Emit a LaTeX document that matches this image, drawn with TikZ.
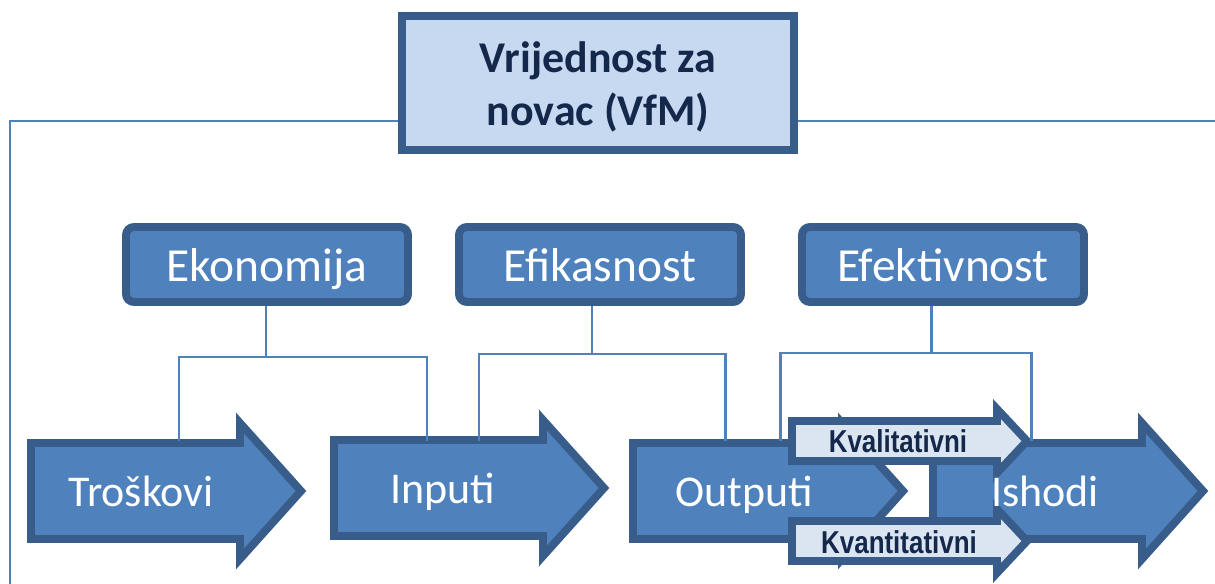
\documentclass[tikz,border=0pt]{standalone}
\usepackage{fontspec}
\setmainfont{Carlito}
\newfontfamily\uskifont[FakeStretch=0.82]{Liberation Sans}
\usetikzlibrary{positioning}

\definecolor{srednjaplava}{HTML}{4F81BD}
\definecolor{tamnaplava}{HTML}{385D8A}
\definecolor{svijetloplava}{HTML}{C6D9F1}
\definecolor{blijedoplava}{HTML}{DBE5F1}
\definecolor{tekstplava}{HTML}{14284B}

\tikzset{
  naslov/.style={draw=tamnaplava, fill=svijetloplava, line width=4.5pt,
    minimum width=78.4mm, minimum height=26.8mm, align=center,
    text=tekstplava, font=\fontsize{25}{30.6}\selectfont\bfseries},
  kriterij/.style={draw=tamnaplava, fill=srednjaplava, line width=4.5pt,
    rounded corners=1.6mm, minimum width=56.4mm, minimum height=15mm,
    text height=19.5pt, text depth=0pt,
    text=white, font=\fontsize{27}{32}\selectfont},
  veza/.style={draw=srednjaplava, line width=1.7pt},
  velikastrelica/.style={draw=tamnaplava, fill=srednjaplava, line width=4.5pt},
  malastrelica/.style={draw=tamnaplava, fill=blijedoplava, line width=4.5pt},
  oznaka/.style={anchor=base, text=white, font=\fontsize{25}{30}\selectfont},
  malaoznaka/.style={text=tekstplava, font=\uskifont\fontsize{18}{21}\selectfont\bfseries},
  velika/.pic={\path[velikastrelica] (4,-48) -- (213,-48) -- (213,-68) -- (274,0)
    -- (213,68) -- (213,48) -- (4,48) -- cycle;},
  mala/.pic={\path[malastrelica] (4,-20) -- (209,-20) -- (209,-32) -- (239,0)
    -- (209,32) -- (209,20) -- (4,20) -- cycle;}
}

\begin{document}
\begin{tikzpicture}[x=0.2mm, y=-0.2mm]
    \useasboundingbox (0,0) rectangle (1215,584);

    % Naslov
    \node[naslov] (vfm) at (598,83) {\rule{0pt}{22pt}Vrijednost za\\novac (VfM)};
    \coordinate (razina) at (0,121);
    \coordinate (lijevo) at (10,584);
    \coordinate (desno) at (1215,121);
    \draw[veza] (lijevo) |- (vfm.west |- razina);
    \draw[veza] (vfm.east |- razina) -- (desno);

    % Kriteriji
    \node[kriterij] (ekonomija) at (267,264.5) {Ekonomija};
    \node[kriterij] (efikasnost) at (600,264.5) {Efikasnost};
    \node[kriterij] (efektivnost) at (943,264.5) {Efektivnost};

    % Strelice
    \pic at (27,491) {velika};
    \pic at (330,488) {velika};
    \pic at (629,491) {velika};
    \pic at (929,491) {velika};
    \pic at (788,441) {mala};
    \pic at (788,541) {mala};

    % Oznake na strelicama
    \node[oznaka] (troskovi) at (141,506) {Troškovi};
    \node[oznaka] (inputi) at (443,503) {Inputi};
    \node[oznaka] (outputi) at (744,506) {Outputi};
    \node[oznaka] (ishodi) at (1045,506) {Ishodi};
    \node[malaoznaka] (kvalitativni) at (898,441) {Kvalitativni};
    \node[malaoznaka] (kvantitativni) at (899,542) {Kvantitativni};

    % Veze
    \foreach \ime/\x/\y/\l/\d in {ekonomija/266/357/179/427,
                                  efikasnost/592/354/479/725,
                                  efektivnost/931/353/780/1031} {
        \coordinate (\ime-j) at (\x,\y);
        \coordinate (\ime-l) at (\l,441);
        \coordinate (\ime-d) at (\d,441);
        \draw[veza] (\ime.south -| \ime-j) -- (\ime-j);
        \draw[veza] (\ime-l) -- (\ime-l |- \ime-j) -- (\ime-d |- \ime-j) -- (\ime-d);
    }
\end{tikzpicture}
\end{document}
